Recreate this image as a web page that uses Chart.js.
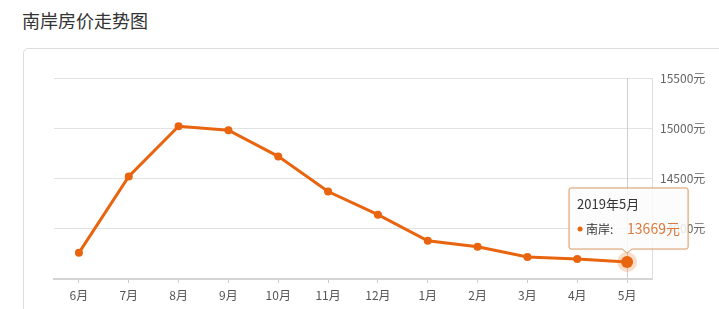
<!DOCTYPE html>
<html><head><meta charset="utf-8">
<script src="https://cdn.jsdelivr.net/npm/chart.js@4"></script>
<style>
html,body{margin:0;padding:0;background:#fff;width:719px;height:309px;overflow:hidden;font-family:"Noto Sans CJK SC","Noto Sans",sans-serif;}
#title{position:absolute;left:22px;top:7px;font-size:18px;color:#333;}
#card{position:absolute;left:23px;top:48px;width:720px;height:300px;border:1px solid #dcdcdc;border-radius:5px;}
#wrap{position:absolute;left:0;top:0;width:719px;height:309px;}
</style></head><body>
<div id="title">南岸房价走势图</div>
<div id="card"></div>
<div id="wrap"><canvas id="c" width="719" height="309"></canvas></div>
<script>
const categories = ['6月','7月','8月','9月','10月','11月','12月','1月','2月','3月','4月','5月'];
const prices = [13760,14520,15020,14980,14720,14370,14140,13880,13820,13720,13700,13669];
const yTicks = [13500,14000,14500,15000,15500];
const seriesName = '南岸';
const tooltipTitle = '2019年5月';
const activeIndex = 11;

const orange = '#e8640e';
const font = '"Noto Sans CJK SC","Noto Sans",sans-serif';

const overlay = {
  id:'overlay',
  beforeDatasetsDraw(chart){
    const ctx = chart.ctx, ca = chart.chartArea;
    const pt = chart.getDatasetMeta(0).data[activeIndex];
    ctx.save();
    ctx.strokeStyle = '#cfcfcf'; ctx.lineWidth = 1;
    ctx.beginPath(); ctx.moveTo(Math.round(pt.x)+0.5, ca.top); ctx.lineTo(Math.round(pt.x)+0.5, ca.bottom); ctx.stroke();
    ctx.restore();
  },
  afterDatasetsDraw(chart){
    const ctx = chart.ctx;
    const pt = chart.getDatasetMeta(0).data[activeIndex];
    ctx.save();
    ctx.fillStyle = 'rgba(240,120,40,0.25)';
    ctx.beginPath(); ctx.arc(pt.x, pt.y, 10, 0, Math.PI*2); ctx.fill();
    ctx.fillStyle = orange;
    ctx.beginPath(); ctx.arc(pt.x, pt.y, 6, 0, Math.PI*2); ctx.fill();
    const w = 119, h = 61, caret = 4;
    const bx = pt.x - 58, by = pt.y - 9 - caret - h;
    const r = 2;
    ctx.beginPath();
    ctx.moveTo(bx+r, by);
    ctx.lineTo(bx+w-r, by); ctx.quadraticCurveTo(bx+w, by, bx+w, by+r);
    ctx.lineTo(bx+w, by+h-r); ctx.quadraticCurveTo(bx+w, by+h, bx+w-r, by+h);
    ctx.lineTo(pt.x+caret+1, by+h); ctx.lineTo(pt.x, by+h+caret); ctx.lineTo(pt.x-caret-1, by+h);
    ctx.lineTo(bx+r, by+h); ctx.quadraticCurveTo(bx, by+h, bx, by+h-r);
    ctx.lineTo(bx, by+r); ctx.quadraticCurveTo(bx, by, bx+r, by);
    ctx.closePath();
    ctx.fillStyle = 'rgba(255,255,255,0.85)';
    ctx.shadowColor = 'rgba(0,0,0,0.12)'; ctx.shadowBlur = 3;
    ctx.fill();
    ctx.shadowBlur = 0;
    ctx.strokeStyle = '#d99a62'; ctx.lineWidth = 1; ctx.stroke();
    ctx.textBaseline = 'middle'; ctx.textAlign = 'left';
    ctx.font = '13px ' + font;
    ctx.fillStyle = '#333';
    ctx.fillText(tooltipTitle, bx+8, by+16);
    ctx.fillStyle = orange;
    ctx.beginPath(); ctx.arc(bx+11, by+41, 2.5, 0, Math.PI*2); ctx.fill();
    ctx.fillStyle = '#333';
    ctx.font = '12px ' + font;
    ctx.fillText(seriesName + ':', bx+17, by+41);
    ctx.fillStyle = '#dc7a3c';
    ctx.font = '14px ' + font;
    ctx.fillText(prices[activeIndex] + '元', bx+58, by+41);
    ctx.restore();
  }
};

new Chart(document.getElementById('c'), {
  type:'line',
  data:{ labels:categories, datasets:[{
    label:seriesName, data:prices,
    borderColor:orange, backgroundColor:orange,
    borderWidth:3, pointRadius:4, pointBackgroundColor:orange, pointBorderWidth:0,
    tension:0, fill:false
  }]},
  options:{
    responsive:false, animation:false, events:[],
    layout:{padding:{left:54,top:78,right:0,bottom:0}},
    plugins:{legend:{display:false}, tooltip:{enabled:false}},
    scales:{
      x:{
        offset:true,
        grid:{display:true, drawOnChartArea:false, drawTicks:true, tickLength:4, color:'#cccccc', offset:false},
        border:{display:true, color:'#d4d4d4', width:2},
        ticks:{color:'#555', font:{size:12, family:font}, padding:5, autoSkip:false, maxRotation:0},
        afterFit(s){ s.height = 30; }
      },
      y:{
        position:'right', min:13500, max:15500,
        afterBuildTicks(s){ s.ticks = yTicks.map(v=>({value:v})); },
        grid:{color:'#e2e2e2', drawTicks:false, lineWidth:1},
        border:{display:true, color:'#dedede', width:1},
        ticks:{color:'#666', font:{size:12, family:font}, padding:8, callback:(v)=> v===13500 ? '' : v+'元'},
        afterFit(s){ s.width = 67; }
      }
    }
  },
  plugins:[overlay]
});
</script>
</body></html>
